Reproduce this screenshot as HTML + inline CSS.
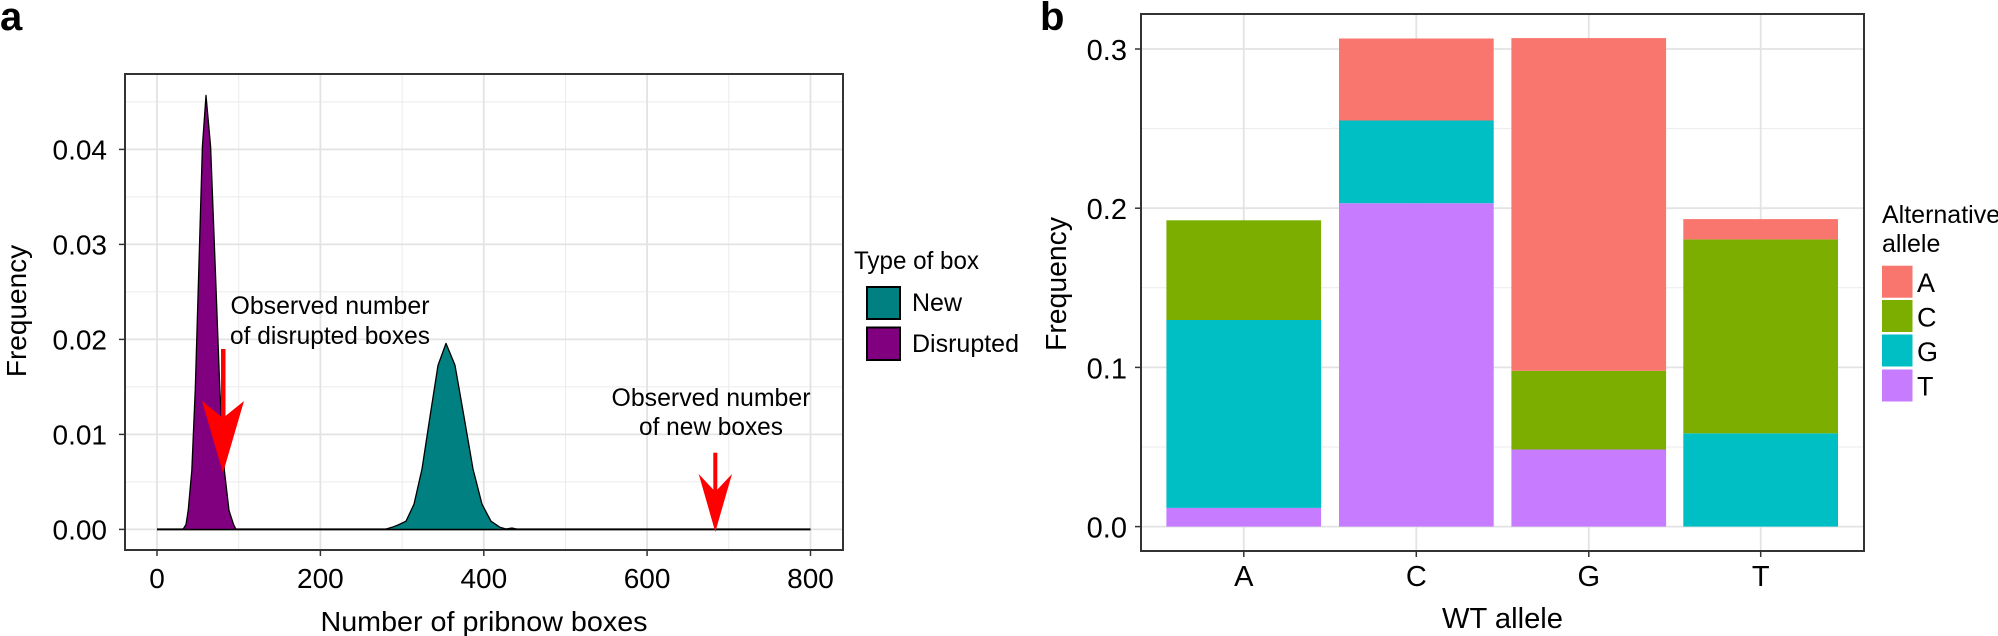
<!DOCTYPE html>
<html><head><meta charset="utf-8"><style>
html,body{margin:0;padding:0;background:#fff;}
svg{display:block;font-family:"Liberation Sans",Arial,sans-serif;}
</style></head><body>
<svg width="1998" height="636" viewBox="0 0 1998 636" xmlns="http://www.w3.org/2000/svg">
<rect width="1998" height="636" fill="#fff"/>
<!-- Panel a -->
<text x="0" y="30" font-size="40" font-weight="bold">a</text>
<g stroke="#ebebeb" stroke-width="1">
<line x1="125" x2="843" y1="481.9" y2="481.9"/><line x1="125" x2="843" y1="386.9" y2="386.9"/><line x1="125" x2="843" y1="291.9" y2="291.9"/><line x1="125" x2="843" y1="196.9" y2="196.9"/><line x1="125" x2="843" y1="101.9" y2="101.9"/>
<line x1="238.7" x2="238.7" y1="74" y2="550"/><line x1="402.1" x2="402.1" y1="74" y2="550"/><line x1="565.5" x2="565.5" y1="74" y2="550"/><line x1="728.8" x2="728.8" y1="74" y2="550"/>
</g>
<g stroke="#e3e3e3" stroke-width="1.8">
<line x1="125" x2="843" y1="529.4" y2="529.4"/><line x1="125" x2="843" y1="434.4" y2="434.4"/><line x1="125" x2="843" y1="339.4" y2="339.4"/><line x1="125" x2="843" y1="244.4" y2="244.4"/><line x1="125" x2="843" y1="149.4" y2="149.4"/>
<line x1="157" x2="157" y1="74" y2="550"/><line x1="320.4" x2="320.4" y1="74" y2="550"/><line x1="483.8" x2="483.8" y1="74" y2="550"/><line x1="647.1" x2="647.1" y1="74" y2="550"/><line x1="810.5" x2="810.5" y1="74" y2="550"/>
</g>
<line x1="157" x2="810.5" y1="529.4" y2="529.4" stroke="#000" stroke-width="2"/>
<path d="M183,529.4 L186,524.6 L188.2,510.4 L191.8,470.7 L195.3,388.5 L198.9,266.2 L202.4,146.4 L206,95.4 L210.6,146.4 L215.2,266.2 L219.8,388.5 L224.4,470.7 L229,510.4 L233.6,524.6 L236,529.4 Z" fill="#800080" stroke="#000" stroke-width="1.3" stroke-linejoin="round"/>
<path d="M385,529.4 L392,527.3 L398,525 L406,521.2 L414,504.2 L422,469 L430,416.6 L438,365.3 L446,343.4 L455,365.3 L464,416.6 L473,469 L482,504.2 L491,521.2 L500,527.3 L506,529 L512,528 L518,529.4 Z" fill="#008080" stroke="#000" stroke-width="1.3" stroke-linejoin="round"/>
<rect x="125" y="74" width="718" height="476" fill="none" stroke="#333" stroke-width="2"/>
<g stroke="#333" stroke-width="1.5">
<line x1="119" x2="125" y1="529.4" y2="529.4"/><line x1="119" x2="125" y1="434.4" y2="434.4"/><line x1="119" x2="125" y1="339.4" y2="339.4"/><line x1="119" x2="125" y1="244.4" y2="244.4"/><line x1="119" x2="125" y1="149.4" y2="149.4"/>
<line x1="157" x2="157" y1="550" y2="556"/><line x1="320.4" x2="320.4" y1="550" y2="556"/><line x1="483.8" x2="483.8" y1="550" y2="556"/><line x1="647.1" x2="647.1" y1="550" y2="556"/><line x1="810.5" x2="810.5" y1="550" y2="556"/>
</g>
<g font-size="28" text-anchor="end" fill="#000">
<text x="107" y="539.5">0.00</text><text x="107" y="444.5">0.01</text><text x="107" y="349.5">0.02</text><text x="107" y="254.5">0.03</text><text x="107" y="159.5">0.04</text>
</g>
<g font-size="28" text-anchor="middle">
<text x="157" y="588">0</text><text x="320.4" y="588">200</text><text x="483.8" y="588">400</text><text x="647.1" y="588">600</text><text x="810.5" y="588">800</text>
<text x="484" y="631" textLength="327" lengthAdjust="spacingAndGlyphs">Number of pribnow boxes</text>
<text transform="translate(26,311) rotate(-90)">Frequency</text>
</g>
<g font-size="25" text-anchor="middle">
<text x="330" y="314" textLength="199" lengthAdjust="spacingAndGlyphs">Observed number</text>
<text x="330" y="344" textLength="200" lengthAdjust="spacingAndGlyphs">of disrupted boxes</text>
<text x="711" y="406" textLength="199" lengthAdjust="spacingAndGlyphs">Observed number</text>
<text x="711" y="435" textLength="144" lengthAdjust="spacingAndGlyphs">of new boxes</text>
</g>
<rect x="221" y="349" width="4.5" height="69" fill="#f00"/>
<polygon points="202,401 223,473 244,401 223,418" fill="#f00"/>
<rect x="713.3" y="452.7" width="4" height="40" fill="#f00"/>
<polygon points="698.7,474 715.3,532 732,474 715.3,491.7" fill="#f00"/>
<text x="854" y="269" font-size="25" textLength="125" lengthAdjust="spacingAndGlyphs">Type of box</text>
<rect x="867" y="287" width="33" height="32" fill="#008080" stroke="#000" stroke-width="2"/>
<rect x="867" y="327.5" width="33" height="32.5" fill="#800080" stroke="#000" stroke-width="2"/>
<text x="912" y="311" font-size="25">New</text>
<text x="912" y="352" font-size="25">Disrupted</text>

<!-- Panel b -->
<text x="1040" y="30" font-size="40" font-weight="bold">b</text>
<g stroke="#ebebeb" stroke-width="1">
<line x1="1141" x2="1864" y1="447" y2="447"/><line x1="1141" x2="1864" y1="287.8" y2="287.8"/><line x1="1141" x2="1864" y1="128.6" y2="128.6"/>
</g>
<g stroke="#e3e3e3" stroke-width="1.8">
<line x1="1141" x2="1864" y1="526.6" y2="526.6"/><line x1="1141" x2="1864" y1="367.4" y2="367.4"/><line x1="1141" x2="1864" y1="208.2" y2="208.2"/><line x1="1141" x2="1864" y1="49" y2="49"/>
<line x1="1243.8" x2="1243.8" y1="14" y2="551"/><line x1="1416.3" x2="1416.3" y1="14" y2="551"/><line x1="1588.8" x2="1588.8" y1="14" y2="551"/><line x1="1760.7" x2="1760.7" y1="14" y2="551"/>
</g>
<rect x="1166.4" y="507.9" width="154.7" height="18.7" fill="#C77CFF"/>
<rect x="1166.4" y="320" width="154.7" height="187.9" fill="#00BFC4"/>
<rect x="1166.4" y="220.3" width="154.7" height="99.7" fill="#7CAE00"/>
<rect x="1339" y="203.2" width="154.7" height="323.4" fill="#C77CFF"/>
<rect x="1339" y="120.5" width="154.7" height="82.7" fill="#00BFC4"/>
<rect x="1339" y="38.5" width="154.7" height="82" fill="#F8766D"/>
<rect x="1511.4" y="449.5" width="154.7" height="77.1" fill="#C77CFF"/>
<rect x="1511.4" y="370.8" width="154.7" height="78.7" fill="#7CAE00"/>
<rect x="1511.4" y="38.1" width="154.7" height="332.7" fill="#F8766D"/>
<rect x="1683.3" y="433.3" width="154.7" height="93.3" fill="#00BFC4"/>
<rect x="1683.3" y="239.4" width="154.7" height="193.9" fill="#7CAE00"/>
<rect x="1683.3" y="219.1" width="154.7" height="20.3" fill="#F8766D"/>
<rect x="1141" y="14" width="723" height="537" fill="none" stroke="#333" stroke-width="2"/>
<g stroke="#333" stroke-width="1.5">
<line x1="1135" x2="1141" y1="526.6" y2="526.6"/><line x1="1135" x2="1141" y1="367.4" y2="367.4"/><line x1="1135" x2="1141" y1="208.2" y2="208.2"/><line x1="1135" x2="1141" y1="49" y2="49"/>
<line x1="1243.8" x2="1243.8" y1="551" y2="557"/><line x1="1416.3" x2="1416.3" y1="551" y2="557"/><line x1="1588.8" x2="1588.8" y1="551" y2="557"/><line x1="1760.7" x2="1760.7" y1="551" y2="557"/>
</g>
<g font-size="29" text-anchor="end">
<text x="1127" y="537.6">0.0</text><text x="1127" y="378.4">0.1</text><text x="1127" y="219.2">0.2</text><text x="1127" y="60">0.3</text>
</g>
<g font-size="29" text-anchor="middle">
<text x="1243.8" y="586">A</text><text x="1416.3" y="586">C</text><text x="1588.8" y="586">G</text><text x="1760.7" y="586">T</text>
<text x="1502.5" y="628" textLength="121" lengthAdjust="spacingAndGlyphs">WT allele</text>
<text transform="translate(1066,284) rotate(-90)" textLength="134" lengthAdjust="spacingAndGlyphs">Frequency</text>
</g>
<text x="1882" y="223" font-size="25">Alternative</text>
<text x="1882" y="252" font-size="25">allele</text>
<rect x="1882" y="265.7" width="30.5" height="32" fill="#F8766D"/>
<rect x="1882" y="300" width="30.5" height="32" fill="#7CAE00"/>
<rect x="1882" y="334.5" width="30.5" height="32" fill="#00BFC4"/>
<rect x="1882" y="369.5" width="30.5" height="32" fill="#C77CFF"/>
<g font-size="27">
<text x="1917" y="292">A</text><text x="1917" y="326.6">C</text><text x="1917" y="361">G</text><text x="1917" y="395.5">T</text>
</g>
</svg>
</body></html>
